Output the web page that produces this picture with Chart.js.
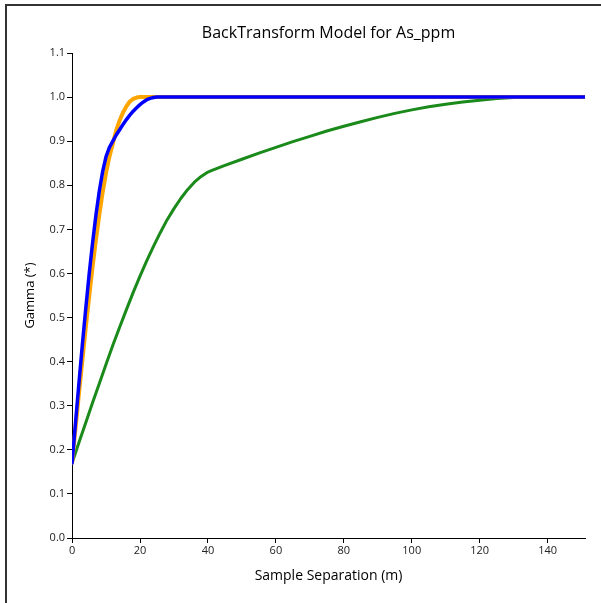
<!DOCTYPE html>
<html>
<head>
<meta charset="utf-8">
<script src="https://cdn.jsdelivr.net/npm/chart.js@4"></script>
<style>
    body { margin: 0; background: #fff; }
    #wrap { position: relative; width: 601px; height: 603px; }
    #frame { position: absolute; left: 5px; top: 4px; right: 0; bottom: 0; border-top: 2px solid #333; border-left: 2px solid #333; pointer-events: none; }
</style>
</head>
<body>
<div id="wrap">
    <canvas id="chart" width="601" height="603"></canvas>
    <div id="frame"></div>
</div>
<script>
// Lags (m) and gamma values
const lagsShort = [0, 1, 2, 3, 4, 5, 6, 7, 8, 9, 10, 11, 12, 13, 14, 15, 16, 17, 18, 19, 20, 151];
const orangeVals = [0.17, 0.248, 0.326, 0.401, 0.475, 0.545, 0.613, 0.675, 0.732, 0.784, 0.828, 0.865, 0.894, 0.925, 0.947, 0.965, 0.979, 0.99, 0.996, 0.999, 1.0, 1.0];

const lagsBlue = [0, 1, 2, 3, 4, 5, 6, 7, 8, 9, 10, 11, 12, 13, 14, 15, 16, 17, 18, 19, 20, 21, 22, 23, 24, 25, 151];
const blueVals = [0.17, 0.26, 0.349, 0.436, 0.518, 0.596, 0.667, 0.731, 0.786, 0.831, 0.865, 0.886, 0.9, 0.914, 0.926, 0.938, 0.949, 0.959, 0.968, 0.976, 0.983, 0.989, 0.994, 0.997, 0.999, 1.0, 1.0];

const lagsGreen = [0, 2, 4, 6, 8, 10, 12, 14, 16, 18, 20, 22, 24, 26, 28, 30, 32, 34, 36, 38, 40, 41,
    45, 50, 55, 60, 65, 70, 75, 80, 85, 90, 95, 100, 105, 110, 115, 120, 125, 130, 135, 137, 151];
const greenVals = [0.17, 0.216, 0.261, 0.306, 0.35, 0.394, 0.437, 0.478, 0.518, 0.557, 0.594, 0.629, 0.662, 0.693, 0.722, 0.747, 0.77, 0.79, 0.807, 0.82, 0.83, 0.833,
    0.845, 0.859, 0.873, 0.886, 0.899, 0.911, 0.923, 0.934, 0.944, 0.954, 0.963, 0.971, 0.978, 0.984, 0.989, 0.993, 0.997, 0.999, 1.0, 1.0, 1.0];

const chartTitle = "BackTransform Model for As_ppm";
const xTitle = "Sample Separation (m)";
const yTitle = "Gamma (*)";

function toPoints(xs, ys) {
    return xs.map((x, i) => ({ x: x, y: ys[i] }));
}

// title centred over the plot area, not the canvas
const areaTitle = {
    id: "areaTitle",
    afterDraw(chart) {
        const ctx = chart.ctx;
        const area = chart.chartArea;
        ctx.save();
        ctx.fillStyle = "#000";
        ctx.font = "16px 'Open Sans'";
        ctx.textAlign = "center";
        ctx.textBaseline = "middle";
        ctx.fillText(chartTitle, (area.left + area.right) / 2, 33);
        ctx.restore();
    }
};

const ctx = document.getElementById("chart").getContext("2d");

new Chart(ctx, {
    type: "line",
    data: {
        datasets: [
            {
                label: "Blue",
                data: toPoints(lagsBlue, blueVals),
                borderColor: "#0000ff",
                borderWidth: 3.5,
                order: 0
            },
            {
                label: "Orange",
                data: toPoints(lagsShort, orangeVals),
                borderColor: "#ffa500",
                borderWidth: 4,
                order: 1
            },
            {
                label: "Green",
                data: toPoints(lagsGreen, greenVals),
                borderColor: "#1a8a1a",
                borderWidth: 3,
                order: 2
            }
        ]
    },
    options: {
        responsive: false,
        animation: false,
        elements: {
            point: { radius: 0 },
            line: { tension: 0, fill: false, borderCapStyle: "round", borderJoinStyle: "round" }
        },
        layout: {
            padding: { left: 22, right: 16, top: 53, bottom: 19 }
        },
        plugins: {
            legend: { display: false },
            tooltip: { enabled: false },
            title: { display: false }
        },
        scales: {
            x: {
                type: "linear",
                min: 0,
                max: 151,
                border: { color: "#000", width: 1 },
                grid: { display: true, drawOnChartArea: false, color: "#000", tickLength: 5 },
                ticks: {
                    stepSize: 20,
                    includeBounds: false,
                    color: "#222",
                    padding: 1,
                    maxRotation: 0,
                    font: { family: "'Open Sans'", size: 11 }
                },
                title: {
                    display: true,
                    text: xTitle,
                    color: "#000",
                    font: { family: "'Open Sans'", size: 14 },
                    padding: { top: 9, bottom: 0 }
                }
            },
            y: {
                type: "linear",
                min: 0,
                max: 1.1,
                border: { color: "#000", width: 1 },
                grid: { display: true, drawOnChartArea: false, color: "#000", tickLength: 5 },
                ticks: {
                    stepSize: 0.1,
                    color: "#222",
                    padding: 2,
                    font: { family: "'Open Sans'", size: 11 },
                    callback: (v) => Number(v).toFixed(1)
                },
                title: {
                    display: true,
                    text: yTitle,
                    color: "#000",
                    font: { family: "'Open Sans'", size: 13 },
                    padding: { top: 0, bottom: 10 }
                }
            }
        }
    },
    plugins: [areaTitle]
});
</script>
</body>
</html>
